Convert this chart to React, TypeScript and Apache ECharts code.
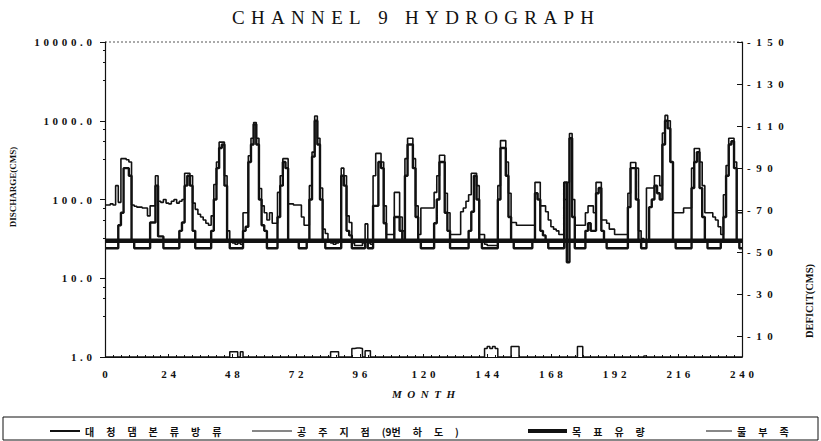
import React, { useEffect, useRef } from "react";
import * as echarts from "echarts";

// ---- Data (monthly, month index 0..239) ----
const DAM_NAME = "대청댐본류방류";
const GONGJU_NAME = "공주지점(9번하도)";
const TARGET_NAME = "목표유량";
const DEFICIT_NAME = "물부족";

const GONGJU_FLOW = [
  85, 85, 88, 85, 150, 92, 330, 330, 320, 300, 85, 82,
  80, 80, 78, 78, 62, 83, 83, 200, 95, 92, 100, 90,
  88, 95, 100, 90, 95, 100, 215, 215, 200, 90, 75, 65,
  60, 55, 50, 47, 62, 155, 300, 535, 535, 200, 40, 29,
  28, 27, 28, 27, 68, 68, 360, 600, 950, 600, 138, 83,
  68, 55, 68, 50, 50, 123, 200, 330, 330, 88, 88, 85,
  85, 85, 60, 47, 47, 150, 400, 1150, 600, 140, 42, 37,
  30, 28, 27, 28, 30, 250, 200, 62, 51, 28, 26, 26,
  26, 28, 49, 28, 27, 200, 385, 385, 300, 83, 36, 36,
  36, 123, 123, 60, 40, 330, 600, 600, 330, 83, 36, 78,
  78, 78, 78, 78, 123, 200, 365, 365, 120, 68, 36, 36,
  36, 36, 70, 78, 95, 115, 215, 215, 150, 36, 36, 27,
  26, 26, 26, 26, 150, 560, 560, 300, 120, 51, 51, 47,
  47, 47, 47, 47, 47, 47, 165, 165, 83, 83, 70, 55,
  45, 42, 40, 36, 36, 100, 165, 690, 100, 47, 47, 47,
  47, 68, 83, 83, 68, 165, 165, 55, 55, 50, 42, 42,
  36, 36, 36, 36, 36, 120, 295, 295, 250, 40, 32, 30,
  140, 140, 140, 200, 200, 150, 700, 1170, 1000, 300, 68, 68,
  68, 68, 78, 78, 78, 250, 445, 445, 300, 150, 68, 68,
  68, 60, 55, 45, 36, 115, 270, 600, 600, 300, 68, 68,
];

const DAM_RELEASE = [
  24, 24, 24, 24, 24, 47, 68, 250, 250, 200, 30, 24,
  24, 24, 24, 24, 24, 51, 51, 150, 34, 34, 24, 24,
  24, 24, 24, 24, 40, 51, 150, 200, 150, 40, 24, 24,
  24, 24, 24, 24, 40, 100, 250, 450, 500, 150, 30, 24,
  24, 24, 24, 24, 40, 45, 300, 500, 900, 500, 100, 47,
  40, 24, 24, 24, 24, 60, 150, 300, 250, 30, 30, 30,
  30, 24, 24, 24, 30, 100, 350, 1000, 500, 100, 30, 24,
  24, 24, 24, 24, 24, 200, 150, 40, 35, 24, 24, 24,
  24, 24, 30, 24, 24, 83, 83, 300, 250, 50, 30, 30,
  30, 60, 60, 40, 30, 200, 500, 500, 250, 60, 30, 24,
  24, 24, 24, 24, 50, 100, 300, 300, 68, 40, 24, 24,
  24, 24, 24, 24, 24, 40, 70, 200, 100, 30, 24, 24,
  24, 24, 24, 24, 100, 450, 450, 200, 60, 30, 24, 24,
  24, 24, 24, 24, 24, 30, 120, 100, 40, 35, 30, 24,
  24, 24, 24, 24, 24, 165, 16, 600, 60, 24, 24, 24,
  24, 40, 50, 40, 40, 120, 140, 40, 30, 24, 24, 24,
  24, 24, 24, 24, 24, 80, 250, 250, 100, 30, 24, 24,
  30, 80, 100, 150, 120, 100, 500, 1000, 800, 300, 30, 24,
  24, 24, 24, 24, 24, 140, 300, 400, 140, 60, 30, 24,
  24, 24, 24, 24, 30, 60, 200, 500, 550, 250, 30, 24,
];

const WATER_DEFICIT = [
  0, 0, 0, 0, 0, 0, 0, 0, 0, 0, 0, 0,
  0, 0, 0, 0, 0, 0, 0, 0, 0, 0, 0, 0,
  0, 0, 0, 0, 0, 0, 0, 0, 0, 0, 0, 0,
  0, 0, 0, 0, 0, 0, 0, 0, 0, 0, 0, 2.5,
  2.5, 2.5, 0, 2.5, 0, 0, 0, 0, 0, 0, 0, 0,
  0, 0, 0, 0, 0, 0, 0, 0, 0, 0, 0, 0,
  0, 0, 0, 0, 0, 0, 0, 0, 0, 0, 0, 0,
  0, 2.5, 2.5, 2.5, 0, 0, 0, 0, 0, 4, 4.3, 4.3,
  4, 0, 3, 3, 0, 0, 0, 0, 0, 0, 0, 0,
  0, 0, 0, 0, 0, 0, 0, 0, 0, 0, 0, 0,
  0, 0, 0, 0, 0, 0, 0, 0, 0, 0, 0, 0,
  0, 0, 0, 0, 0, 0, 0, 0, 0, 0, 0, 4,
  5, 4, 5, 4, 0, 0, 0, 0, 0, 5, 5, 5,
  0, 0, 0, 0, 0, 0, 0, 0, 0, 0, 0, 0,
  0, 0, 0, 0, 0, 0, 0, 0, 0, 0, 5, 5,
  0, 0, 0, 0, 0, 0, 0, 0, 0, 0, 0, 0,
  0, 0, 0, 0, 0, 0, 0, 0, 0, 0, 0, 0.5,
  0, 0, 0, 0, 0, 0, 0, 0, 0, 0, 0, 0,
  0, 0, 0, 0, 0, 0, 0, 0, 0, 0, 0, 0,
  0, 0, 0, 0, 0, 0, 0, 0, 0, 0, 0, 0,
];

const TARGET_MONTHS = [0, 240];
const TARGET_FLOW = [30, 30];

const DEFICIT_TICKS = [10, 30, 50, 70, 90, 110, 130, 150];

const LEGEND_LABELS: Record<string, string[]> = {
  [DAM_NAME]: ["대", "청", "댐", "본", "류", "방", "류"],
  [GONGJU_NAME]: ["공", "주", "지", "점", "(9번", "하", "도", ")"],
  [TARGET_NAME]: ["목", "표", "유", "량"],
  [DEFICIT_NAME]: ["물", "부", "족"],
};

const TITLE = "CHANNEL 9 HYDROGRAPH";

// ---- helpers ----
const NUM_SEP = "\u00A0\u200A";
const spaced = (s: string, sep: string) => Array.from(s).join(sep);
const toSteps = (arr: number[]) => {
  const out: number[][] = arr.map((v, i) => [i, v]);
  out.push([arr.length, arr[arr.length - 1]]);
  return out;
};

const INK = "#111";
const SERIF = "'Liberation Serif', 'DejaVu Serif', serif";
const KR = "'Noto Sans CJK KR', sans-serif";

export default function App() {
  const ref = useRef<HTMLDivElement>(null);

  useEffect(() => {
    if (!ref.current) return;
    const chart = echarts.init(ref.current, null, { renderer: "svg" });

    const legendCommon = {
      top: 421,
      icon: "rect",
      itemGap: 0,
      selectedMode: false,
      textStyle: { fontFamily: KR, fontSize: 10, color: INK, fontWeight: "bold" },
      formatter: (n: string) => (LEGEND_LABELS[n] || [n]).join("\u2003\u2009"),
    };

    const option: any = {
      animation: false,
      backgroundColor: "#fff",
      textStyle: { fontFamily: SERIF },
      grid: { left: 105, right: 79, top: 42, bottom: 84, containLabel: false },
      xAxis: {
        type: "value",
        min: 0,
        max: 240,
        interval: 24,
        name: spaced("MONTH", "\u2002"),
        nameLocation: "middle",
        nameGap: 31,
        nameTextStyle: {
          fontFamily: SERIF,
          fontStyle: "italic",
          fontWeight: "bold",
          fontSize: 11,
          color: INK,
        },
        axisLine: { show: true, lineStyle: { color: INK, width: 1.2 } },
        axisTick: { show: true, inside: true, length: 3, lineStyle: { color: INK } },
        minorTick: { show: true, splitNumber: 8, length: 2, lineStyle: { color: INK } },
        axisLabel: {
          margin: 11,
          fontFamily: SERIF,
          fontSize: 11,
          fontWeight: "bold",
          color: INK,
          formatter: (v: number) => spaced(String(v), NUM_SEP),
        },
        splitLine: { show: false },
      },
      yAxis: [
        {
          type: "log",
          logBase: 10,
          min: 1,
          max: 10000,
          axisLine: { show: true, lineStyle: { color: INK, width: 1.2 } },
          axisTick: { show: true, inside: false, length: 5, lineStyle: { color: INK } },
          minorTick: { show: true, splitNumber: 4, length: 2, lineStyle: { color: INK } },
          axisLabel: {
            margin: 13,
            fontFamily: SERIF,
            fontSize: 11,
            fontWeight: "bold",
            color: INK,
            formatter: (v: number) => spaced(Number(v).toFixed(1), NUM_SEP),
          },
          splitLine: { show: false },
        },
        {
          type: "value",
          position: "right",
          min: 0,
          max: 150,
          axisLine: { show: true, lineStyle: { color: INK, width: 1.2 } },
          axisTick: {
            show: true,
            inside: true,
            length: 5,
            customValues: DEFICIT_TICKS,
            lineStyle: { color: INK },
          },
          axisLabel: {
            margin: 5,
            fontFamily: SERIF,
            fontSize: 11,
            fontWeight: "bold",
            color: INK,
            customValues: DEFICIT_TICKS,
            formatter: (v: number) => spaced("-" + v, "\u2002"),
          },
          splitLine: { show: false },
        },
      ],
      legend: [
        { ...legendCommon, data: [DAM_NAME], left: 45, itemWidth: 30, itemHeight: 2 },
        { ...legendCommon, data: [GONGJU_NAME], left: 247, itemWidth: 40, itemHeight: 1 },
        { ...legendCommon, data: [TARGET_NAME], left: 523, itemWidth: 39, itemHeight: 4 },
        { ...legendCommon, data: [DEFICIT_NAME], left: 701, itemWidth: 26, itemHeight: 1 },
      ],
      graphic: [
        {
          type: "text",
          x: 413,
          y: 17,
          style: {
            text: spaced(TITLE, "\u00A0\u200A"),
            fontFamily: SERIF,
            fontSize: 19,
            fill: INK,
            textAlign: "center",
            textVerticalAlign: "middle",
            align: "center",
            verticalAlign: "middle",
          },
        },
        {
          type: "line",
          shape: { x1: 105, y1: 42, x2: 742, y2: 42 },
          style: { stroke: "#555", lineWidth: 1, lineDash: [2, 2] },
        },
        {
          type: "text",
          x: 13,
          y: 187,
          rotation: Math.PI / 2,
          style: {
            text: "DISCHARGE(CMS)",
            fontFamily: SERIF,
            fontSize: 9,
            fontWeight: "bold",
            fill: INK,
            textAlign: "center",
            textVerticalAlign: "middle",
            align: "center",
            verticalAlign: "middle",
          },
        },
        {
          type: "text",
          x: 809,
          y: 301,
          rotation: Math.PI / 2,
          style: {
            text: "DEFICIT(CMS)",
            fontFamily: SERIF,
            fontSize: 10.5,
            fontWeight: "bold",
            fill: INK,
            textAlign: "center",
            textVerticalAlign: "middle",
            align: "center",
            verticalAlign: "middle",
          },
        },
        {
          type: "rect",
          shape: { x: 3, y: 417, width: 815, height: 23 },
          style: { fill: "none", stroke: INK, lineWidth: 1 },
        },
      ],
      series: [
        {
          name: GONGJU_NAME,
          type: "line",
          step: "end",
          symbol: "none",
          data: toSteps(GONGJU_FLOW),
          lineStyle: { color: INK, width: 1.6 },
          itemStyle: { color: INK },
          z: 2,
        },
        {
          name: DAM_NAME,
          type: "line",
          step: "end",
          symbol: "none",
          data: toSteps(DAM_RELEASE),
          lineStyle: { color: INK, width: 2.4 },
          itemStyle: { color: INK },
          z: 3,
        },
        {
          name: TARGET_NAME,
          type: "line",
          symbol: "none",
          data: TARGET_MONTHS.map((m, i) => [m, TARGET_FLOW[i]]),
          lineStyle: { color: INK, width: 4.5 },
          itemStyle: { color: INK },
          z: 4,
        },
        {
          name: DEFICIT_NAME,
          type: "line",
          step: "end",
          symbol: "none",
          yAxisIndex: 1,
          data: toSteps(WATER_DEFICIT),
          lineStyle: { color: INK, width: 1.5 },
          itemStyle: { color: INK },
          z: 5,
        },
      ],
    };

    chart.setOption(option);
    return () => chart.dispose();
  }, []);

  return (
    <div
      ref={ref}
      style={{ position: "absolute", left: 0, top: 0, width: 821, height: 441 }}
    />
  );
}
